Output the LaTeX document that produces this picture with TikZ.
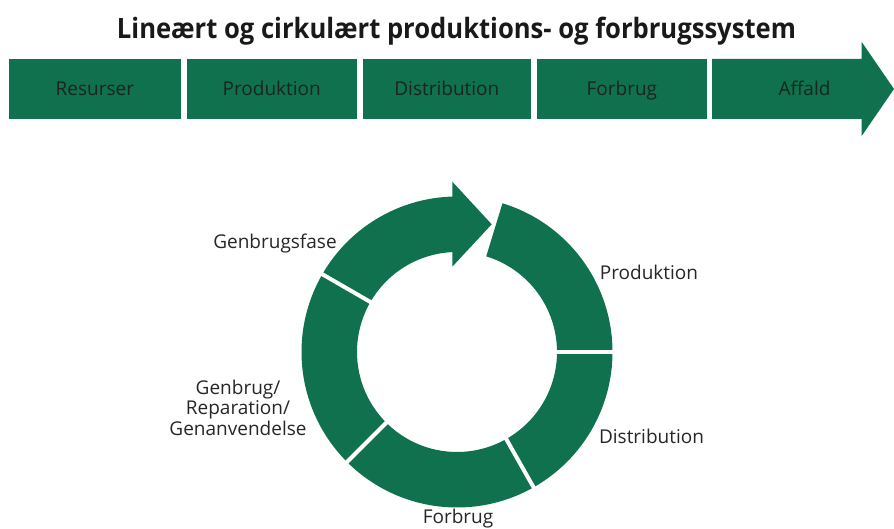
\documentclass[tikz,border=0pt]{standalone}
\usepackage{fontspec}
\setmainfont{Open Sans}
\usepackage{graphicx}
\definecolor{grn}{RGB}{15,113,78}
\definecolor{lbl}{RGB}{38,38,38}
\definecolor{boxtxt}{RGB}{28,36,32}
\begin{document}
\begin{tikzpicture}[x=1pt,y=1pt,
  linbox/.style={fill=grn, draw=none, inner sep=0, minimum height=60pt,
    font=\fontsize{19}{22}\selectfont, text=boxtxt, text height=14pt, text depth=0pt},
  boxlabel/.style={font=\fontsize{19}{22}\selectfont, text=boxtxt, inner sep=0, text height=14pt, text depth=0pt},
  ringlabel/.style={font=\fontsize{19}{20.5}\selectfont, text=lbl, inner sep=0},
  gap/.style={draw=white, line width=4pt}]
\useasboundingbox (0,0) rectangle (894,529);
% title
\node[anchor=base, inner sep=0, text=black!90] (title) at (456.5,490.7)
  {\resizebox{679pt}{\height}{\fontsize{28}{30}\selectfont\bfseries Lineært og cirkulært produktions- og forbrugssystem}};
% linear chain
\node[linbox, minimum width=171.7pt] (b1) at (94.85,440) {Resurser};
\node[linbox, minimum width=170pt] (b2) at (271.7,440) {Produktion};
\node[linbox, minimum width=168.3pt] (b3) at (446.85,440) {Distribution};
\node[linbox, minimum width=169.7pt] (b4) at (621.85,440) {Forbrug};
\fill[grn] (712,410) -- (861.7,410) -- (861.7,393) -- (894,440) -- (861.7,487) -- (861.7,470) -- (712,470) -- cycle;
\node[boxlabel] (b5) at (804.5,440) {Affald};
% circular system
\begin{scope}[shift={(457,177)}]
  \fill[grn] (73:155.5) arc[start angle=73, end angle=0, radius=155.5]
     -- (0:100) arc[start angle=0, end angle=73, radius=100] -- cycle;
  \fill[grn] (0:155.5) arc[start angle=0, end angle=-60.5, radius=155.5]
     -- (-60.5:100) arc[start angle=-60.5, end angle=0, radius=100] -- cycle;
  \fill[grn] (-60.5:155.5) arc[start angle=-60.5, end angle=-135, radius=155.5]
     -- (-135:100) arc[start angle=-135, end angle=-60.5, radius=100] -- cycle;
  \fill[grn] (-135:155.5) arc[start angle=-135, end angle=-210, radius=155.5]
     -- (-210:100) arc[start angle=-210, end angle=-135, radius=100] -- cycle;
  \fill[grn] (150:155.5) arc[start angle=150, end angle=91.73, radius=155.5]
     -- (-4.7,170.3) -- (34.7,127.7) -- (-4.7,85.3)
     -- (92.69:100) arc[start angle=92.69, end angle=150, radius=100] -- cycle;
  \draw[gap] (0:95) -- (0:161);
  \draw[gap] (-60.5:95) -- (-60.5:161);
  \draw[gap] (-135:95) -- (-135:161);
  \draw[gap] (150:95) -- (150:161);
\end{scope}
% ring labels
\node[ringlabel, anchor=base] (lfase) at (275,280.7) {Genbrugsfase};
\node[ringlabel, anchor=base] (lprod) at (649,249.7) {Produktion};
\node[ringlabel, anchor=base] (ldist) at (651.5,85.7) {Distribution};
\node[ringlabel, anchor=base] (lforb) at (458,5.2) {Forbrug};
\node[ringlabel, align=center] (lgen) at (238,121.5) {Genbrug/\\Reparation/\\Genanvendelse};
\end{tikzpicture}
\end{document}
